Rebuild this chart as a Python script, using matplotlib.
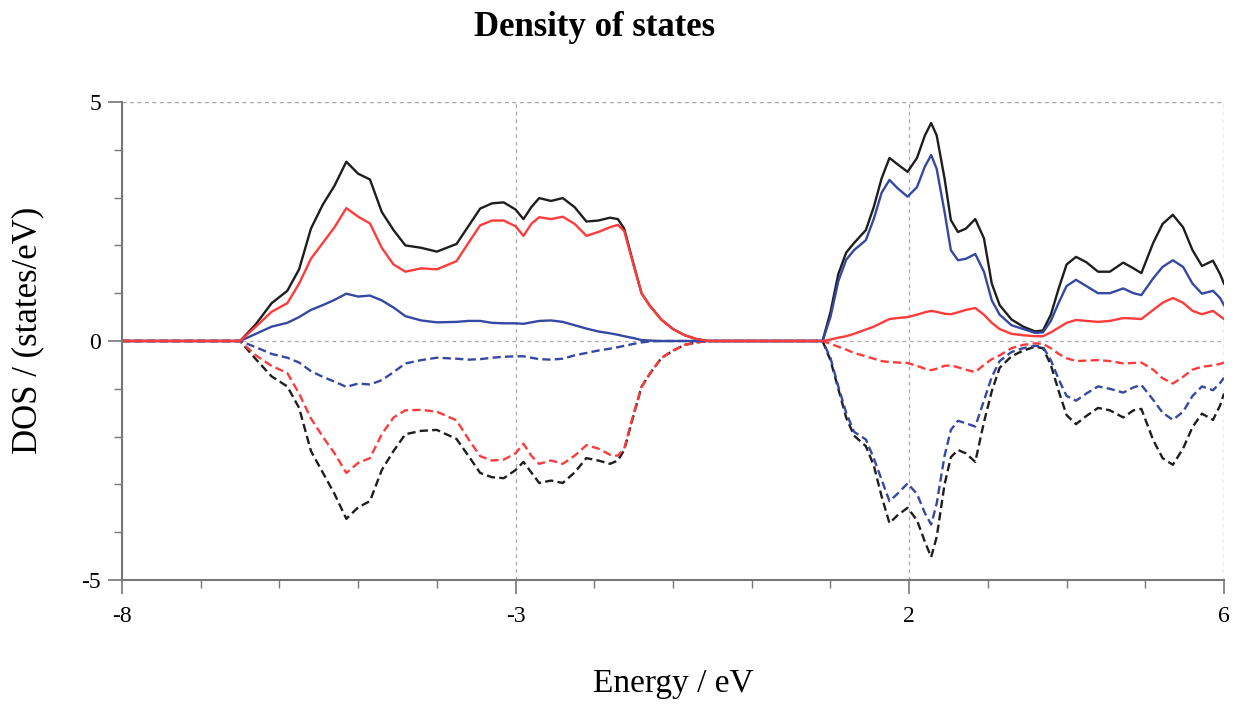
import matplotlib
matplotlib.use("Agg")
import matplotlib.pyplot as plt
from matplotlib.ticker import MultipleLocator, FixedLocator
import numpy as np

plt.rcParams['font.family'] = ['Liberation Serif', 'DejaVu Serif']

# energy grids (eV)
e_vb = [-6.5, -6.3, -6.1, -5.9, -5.75, -5.6, -5.45, -5.3, -5.15, -5.0, -4.85,
        -4.7, -4.55, -4.4, -4.2, -4.0, -3.75, -3.6, -3.45, -3.3, -3.15, -3.0,
        -2.9, -2.8, -2.7, -2.55, -2.4, -2.25, -2.1, -1.95, -1.8, -1.7, -1.62,
        -1.5, -1.4, -1.3, -1.15, -1.0, -0.85, -0.7, -0.55]
e_cb = [0.9, 1.0, 1.1, 1.2, 1.3, 1.45, 1.55, 1.65, 1.75, 1.85, 1.98, 2.1, 2.2,
        2.28, 2.35, 2.45, 2.53, 2.62, 2.72, 2.84, 2.95, 3.05, 3.15, 3.3, 3.45,
        3.6, 3.7, 3.8, 3.9, 4.0, 4.12, 4.25, 4.4, 4.55, 4.72, 4.85, 4.95, 5.1,
        5.22, 5.35, 5.48, 5.6, 5.72, 5.86, 5.95, 6.0]

# spin up, valence band
tot_up_vb = [0, 0.35, 0.79, 1.05, 1.5, 2.35, 2.85, 3.25, 3.75, 3.5, 3.38, 2.7,
             2.32, 2.0, 1.95, 1.87, 2.03, 2.4, 2.77, 2.88, 2.9, 2.75, 2.55, 2.8,
             2.99, 2.93, 2.99, 2.8, 2.5, 2.52, 2.58, 2.55, 2.35, 1.6, 1.0, 0.75,
             0.45, 0.25, 0.12, 0.04, 0]
red_up_vb = [0, 0.3, 0.61, 0.79, 1.2, 1.72, 2.05, 2.38, 2.78, 2.6, 2.46, 1.95,
             1.6, 1.45, 1.52, 1.5, 1.67, 2.05, 2.42, 2.52, 2.52, 2.4, 2.2, 2.45,
             2.59, 2.55, 2.6, 2.45, 2.2, 2.28, 2.38, 2.43, 2.3, 1.58, 1.0, 0.75,
             0.45, 0.25, 0.12, 0.04, 0]
blue_up_vb = [0, 0.15, 0.30, 0.38, 0.5, 0.65, 0.75, 0.86, 0.99, 0.93, 0.95,
              0.85, 0.7, 0.52, 0.43, 0.39, 0.4, 0.42, 0.42, 0.38, 0.37, 0.37,
              0.36, 0.39, 0.42, 0.43, 0.40, 0.33, 0.26, 0.2, 0.16, 0.13, 0.1,
              0.06, 0.02, 0.01, 0, 0, 0, 0, 0]

# spin down, valence band
tot_dn_vb = [0, -0.38, -0.74, -0.95, -1.4, -2.3, -2.75, -3.2, -3.72, -3.48,
             -3.35, -2.7, -2.3, -1.95, -1.88, -1.86, -2.05, -2.4, -2.76, -2.85,
             -2.87, -2.7, -2.53, -2.75, -2.97, -2.92, -2.97, -2.75, -2.45, -2.5,
             -2.57, -2.5, -2.28, -1.55, -0.96, -0.7, -0.36, -0.2, -0.08, -0.03, 0]
red_dn_vb = [0, -0.3, -0.52, -0.67, -1.1, -1.62, -2.0, -2.35, -2.76, -2.55,
             -2.45, -1.95, -1.6, -1.45, -1.44, -1.48, -1.66, -2.05, -2.41, -2.5,
             -2.48, -2.35, -2.15, -2.4, -2.57, -2.5, -2.57, -2.4, -2.18, -2.25,
             -2.38, -2.4, -2.25, -1.52, -0.96, -0.7, -0.36, -0.2, -0.08, -0.03, 0]
blue_dn_vb = [0, -0.13, -0.27, -0.35, -0.45, -0.63, -0.75, -0.85, -0.96, -0.89,
              -0.91, -0.82, -0.65, -0.47, -0.4, -0.35, -0.37, -0.39, -0.38,
              -0.35, -0.33, -0.32, -0.32, -0.35, -0.38, -0.39, -0.37, -0.3,
              -0.25, -0.2, -0.16, -0.13, -0.1, -0.06, -0.03, -0.01, 0, 0, 0, 0, 0]

# spin up, conduction band
tot_up_cb = [0, 0.6, 1.4, 1.85, 2.05, 2.32, 2.8, 3.4, 3.83, 3.7, 3.54, 3.83,
             4.3, 4.56, 4.3, 3.4, 2.53, 2.28, 2.35, 2.55, 2.15, 1.2, 0.75, 0.45,
             0.3, 0.2, 0.22, 0.55, 1.1, 1.6, 1.76, 1.65, 1.45, 1.45, 1.64, 1.52,
             1.42, 2.05, 2.45, 2.64, 2.38, 1.9, 1.57, 1.68, 1.4, 1.2]
blue_up_cb = [0, 0.5, 1.25, 1.7, 1.9, 2.11, 2.55, 3.1, 3.37, 3.2, 3.02, 3.22,
              3.65, 3.89, 3.6, 2.7, 1.9, 1.69, 1.72, 1.82, 1.45, 0.85, 0.55,
              0.33, 0.25, 0.17, 0.18, 0.42, 0.8, 1.15, 1.28, 1.15, 1.0, 1.0,
              1.1, 1.0, 0.96, 1.31, 1.55, 1.69, 1.55, 1.2, 0.99, 1.05, 0.9, 0.75]
red_up_cb = [0, 0.03, 0.07, 0.1, 0.15, 0.24, 0.3, 0.38, 0.46, 0.48, 0.5, 0.55,
             0.6, 0.63, 0.61, 0.57, 0.56, 0.6, 0.65, 0.69, 0.55, 0.38, 0.25,
             0.15, 0.12, 0.1, 0.1, 0.18, 0.28, 0.38, 0.44, 0.42, 0.4, 0.42,
             0.48, 0.47, 0.46, 0.65, 0.8, 0.9, 0.8, 0.63, 0.56, 0.63, 0.52, 0.46]

# spin down, conduction band
tot_dn_cb = [0, -0.4, -1.0, -1.6, -1.98, -2.2, -2.6, -3.25, -3.81, -3.65,
             -3.49, -3.75, -4.2, -4.52, -4.1, -3.0, -2.43, -2.28, -2.35, -2.53,
             -1.7, -1.05, -0.56, -0.32, -0.2, -0.12, -0.15, -0.5, -1.05, -1.55,
             -1.74, -1.57, -1.4, -1.45, -1.6, -1.45, -1.42, -2.07, -2.45, -2.59,
             -2.25, -1.8, -1.52, -1.65, -1.35, -1.1]
blue_dn_cb = [0, -0.35, -0.95, -1.5, -1.9, -2.06, -2.45, -2.9, -3.35, -3.2,
              -2.98, -3.2, -3.6, -3.84, -3.4, -2.4, -1.86, -1.67, -1.72, -1.79,
              -1.25, -0.75, -0.42, -0.23, -0.15, -0.1, -0.12, -0.4, -0.8, -1.15,
              -1.25, -1.1, -0.95, -1.0, -1.08, -0.97, -0.92, -1.23, -1.5, -1.65,
              -1.48, -1.15, -0.95, -1.03, -0.88, -0.77]
red_dn_cb = [0, -0.06, -0.12, -0.18, -0.25, -0.32, -0.37, -0.42, -0.44, -0.45,
             -0.46, -0.52, -0.58, -0.61, -0.58, -0.52, -0.51, -0.55, -0.6,
             -0.65, -0.5, -0.38, -0.3, -0.15, -0.08, -0.05, -0.06, -0.15, -0.27,
             -0.36, -0.42, -0.41, -0.4, -0.42, -0.47, -0.46, -0.45, -0.6, -0.78,
             -0.89, -0.75, -0.6, -0.54, -0.51, -0.48, -0.45]

x_ticks = [-8, -3, 2, 6]
y_ticks = [-5, 0, 5]

BLACK = '#1e1e1e'
RED = '#ff3b3b'
BLUE = '#3548a3'


def full(vb, cb):
    return [0.0] + list(vb) + list(cb)


energy = [-8.0] + e_vb + e_cb

fig = plt.figure(figsize=(12.39, 7.06), dpi=100)
ax = fig.add_axes([122 / 1239, 126 / 706, 1102 / 1239, 478 / 706])

series = [
    (tot_dn_vb, tot_dn_cb, BLACK, '--'),
    (red_dn_vb, red_dn_cb, RED, '--'),
    (blue_dn_vb, blue_dn_cb, BLUE, '--'),
    (tot_up_vb, tot_up_cb, BLACK, '-'),
    (blue_up_vb, blue_up_cb, BLUE, '-'),
    (red_up_vb, red_up_cb, RED, '-'),
]
for vb, cb, col, ls in series:
    ax.plot(energy, full(vb, cb), color=col, ls=ls, lw=1.7,
            solid_joinstyle='round', dash_joinstyle='round',
            dashes=(3.5, 1.8) if ls == '--' else (None, None))

ax.set_xlim(-8, 6)
ax.set_ylim(-5, 5)
ax.xaxis.set_major_locator(FixedLocator(x_ticks))
ax.xaxis.set_minor_locator(MultipleLocator(1))
ax.yaxis.set_major_locator(FixedLocator(y_ticks))
ax.yaxis.set_minor_locator(MultipleLocator(1))
ax.set_xticklabels([str(t) for t in x_ticks])
ax.set_yticklabels([str(t) for t in y_ticks])

ax.grid(True, which='major', color='#aaaaaa', ls=(0, (3, 3)), lw=0.9)
for s in ['top', 'right']:
    ax.spines[s].set_visible(False)
for s in ['left', 'bottom']:
    ax.spines[s].set_color('#777777')
    ax.spines[s].set_linewidth(1.5)
ax.axhline(5, color='#aaaaaa', ls=(0, (3, 3)), lw=0.9)
ax.axvline(6, color='#aaaaaa', ls=(0, (3, 3)), lw=0.9)

ax.tick_params(which='major', direction='out', length=10, width=1.2,
               color='#777777', labelsize=17)
ax.tick_params(axis='x', which='major', pad=9)
ax.tick_params(axis='y', which='major', pad=5)
ax.tick_params(which='minor', direction='out', length=6, width=1.0,
               color='#777777')

fig.text(595 / 1239, 1 - 28 / 706, 'Density of states', ha='center',
         va='center', fontsize=25, fontweight='bold')
fig.text(673 / 1239, 1 - 684 / 706, 'Energy / eV', ha='center', va='center',
         fontsize=24)
fig.text(28 / 1239, 1 - 330 / 706, 'DOS / (states/eV)', ha='center',
         va='center', rotation=90, fontsize=25)

fig.savefig('out.png', dpi=100)
